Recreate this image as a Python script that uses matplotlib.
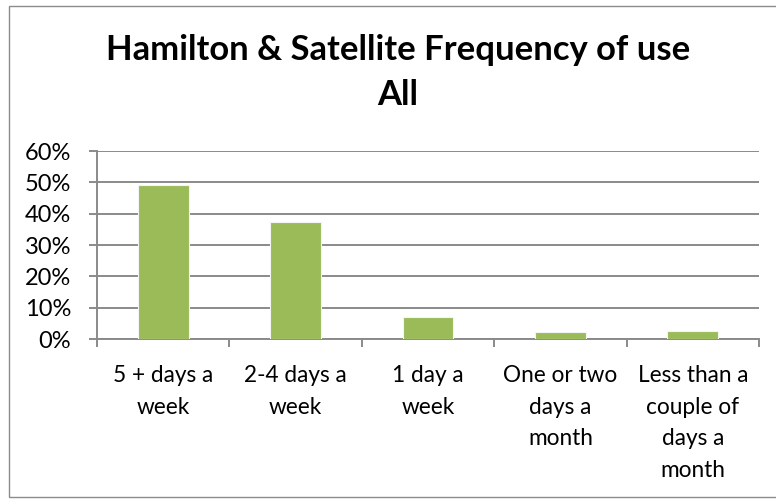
import matplotlib.pyplot as plt
from matplotlib.patches import Rectangle
from matplotlib.ticker import PercentFormatter

categories = ["5 + days a\nweek", "2-4 days a\nweek", "1 day a\nweek",
              "One or two\ndays a\nmonth", "Less than a\ncouple of\ndays a\nmonth"]
shares = [0.49, 0.373, 0.07, 0.022, 0.026]
y_ticks = [0, 0.1, 0.2, 0.3, 0.4, 0.5, 0.6]

W, H = 776, 499


def main():
    plt.rcParams['font.family'] = ['Lato', 'DejaVu Sans']
    fig = plt.figure(figsize=(W / 100, H / 100), dpi=100)

    # chart area border (left, top, bottom; right edge runs off the image)
    fig.add_artist(Rectangle((9 / W, 2 / H), 1.2, (H - 8) / H, transform=fig.transFigure,
                             fill=False, edgecolor="#8c8c8c", linewidth=1.0))

    ax = fig.add_axes([97 / W, 1 - 339 / H, 662 / W, 188 / H])
    x = range(len(categories))
    ax.bar(x, shares, width=0.385, color="#9bbb59", edgecolor="#f4f4f4",
           linewidth=0.8, zorder=3)

    ax.set_xlim(-0.5, len(categories) - 0.5)
    ax.set_ylim(0, 0.6)
    ax.set_yticks(y_ticks)
    ax.yaxis.set_major_formatter(PercentFormatter(1.0, decimals=0))
    ax.grid(axis="y", color="#8a8a8a", linewidth=1.4, zorder=0)

    ax.set_xticks(list(x))
    ax.set_xticklabels(categories, linespacing=1.62)
    ax.set_xticks([i - 0.5 for i in range(len(categories) + 1)], minor=True)
    ax.tick_params(axis="x", which="major", length=0, pad=19, labelsize=16.3, colors="black")
    ax.tick_params(axis="x", which="minor", length=6, width=1.4, color="#8a8a8a", direction="out")
    ax.tick_params(axis="y", length=6, width=1.4, color="#8a8a8a", pad=12.5, labelsize=17)

    for side in ("top", "right"):
        ax.spines[side].set_visible(False)
    for side in ("left", "bottom"):
        ax.spines[side].set_color("#8a8a8a")
        ax.spines[side].set_linewidth(1.4)

    fig.text(398 / W, 1 - 50 / H, "Hamilton & Satellite Frequency of use",
             ha="center", va="center", fontsize=24.9, fontweight="bold")
    fig.text(398 / W, 1 - 95 / H, "All",
             ha="center", va="center", fontsize=24.9, fontweight="bold")

    fig.savefig("out.png", dpi=100)


if __name__ == '__main__':
    main()
